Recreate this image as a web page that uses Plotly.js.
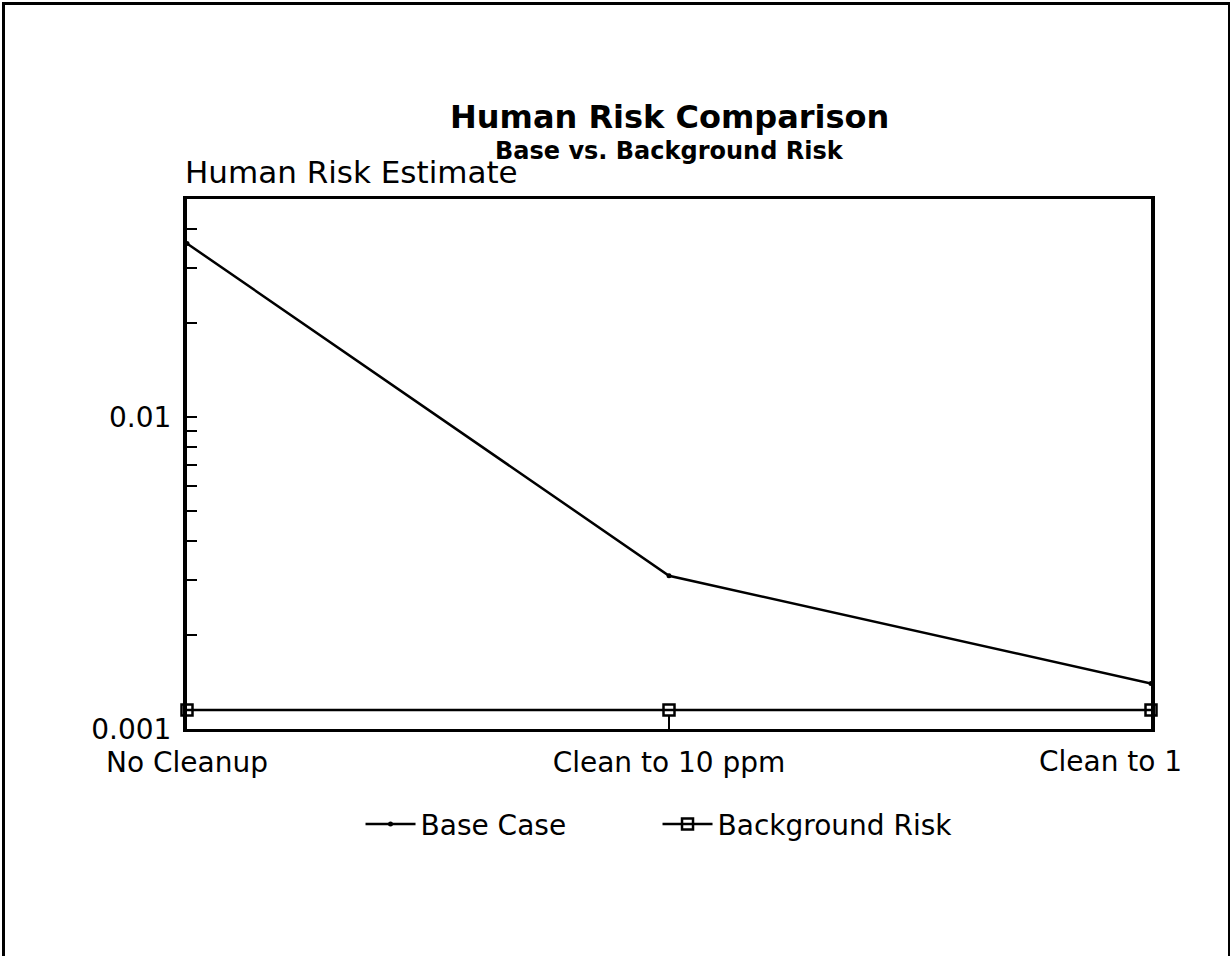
<!DOCTYPE html>
<html>
<head>
<meta charset="utf-8">
<script src="https://cdn.plot.ly/plotly-3.0.1.min.js"></script>
<style>
  html, body { margin: 0; padding: 0; background: #ffffff; }
  #wrap { position: relative; width: 1230px; height: 956px; overflow: hidden; }
  #chart { width: 1230px; height: 956px; }
  #frame { position: absolute; left: 2px; top: 2px; width: 1223px; height: 980px;
           border: 3px solid #000; pointer-events: none; }
</style>
</head>
<body>
<div id="wrap">
  <div id="chart"></div>
  <div id="frame"></div>
</div>
<script>
// ---- data ----
const categories = ['No Cleanup', 'Clean to 10 ppm', 'Clean to 1'];
const baseCase = [0.036, 0.0031, 0.0014];
const backgroundRisk = [0.00115, 0.00115, 0.00115];
const yTickVals = [0.001, 0.002, 0.003, 0.004, 0.005, 0.006, 0.007, 0.008, 0.009,
                   0.01, 0.02, 0.03, 0.04, 0.05];
const yTickText = ['0.001', '', '', '', '', '', '', '', '',
                   '0.01', '', '', '', ''];
const titleText = 'Human Risk Comparison';
const subtitleText = 'Base vs. Background Risk';
const yTitleText = 'Human Risk Estimate';

const FONT = 'DejaVu Sans, Liberation Sans, Arial, sans-serif';

// the last category label sits shifted left inside the frame in the reference,
// so it is drawn as an annotation; the others are ordinary tick labels
const xTickText = categories.map((c, i) => (i === categories.length - 1 ? '' : c));

const traces = [
  {
    x: categories, y: baseCase, name: 'Base Case', type: 'scatter', mode: 'lines+markers',
    line: { color: '#000', width: 2.5 },
    marker: { symbol: 'circle', size: 5, color: '#000' },
    cliponaxis: false
  },
  {
    x: categories, y: backgroundRisk, name: 'Background Risk', type: 'scatter', mode: 'lines+markers',
    line: { color: '#000', width: 2.5 },
    marker: { symbol: 'square-open', size: 11, color: '#000', line: { width: 2.5, color: '#000' } },
    cliponaxis: false
  }
];

const layout = {
  width: 1230, height: 956,
  paper_bgcolor: '#fff', plot_bgcolor: '#fff',
  margin: { l: 187, r: 79, t: 199, b: 227 },
  font: { family: FONT, color: '#000' },
  showlegend: true,
  legend: {
    orientation: 'h', x: 0.18, xanchor: 'left', y: -0.18, yanchor: 'middle',
    font: { family: FONT, size: 28, color: '#000' },
    itemwidth: 50, entrywidth: 232, entrywidthmode: 'pixels',
    bgcolor: 'rgba(0,0,0,0)'
  },
  xaxis: {
    type: 'category', range: [0, 2],
    tickmode: 'array', tickvals: categories, ticktext: xTickText,
    ticks: 'inside', ticklen: 13, tickwidth: 2, tickcolor: '#000',
    showline: true, linewidth: 3, linecolor: '#000', mirror: true,
    showgrid: false, zeroline: false,
    tickfont: { family: FONT, size: 28, color: '#000' },
    ticklabelstandoff: 6,
    fixedrange: true
  },
  yaxis: {
    type: 'log', range: [Math.log10(0.001), Math.log10(0.05)],
    tickmode: 'array', tickvals: yTickVals, ticktext: yTickText,
    ticks: 'inside', ticklen: 10, tickwidth: 2, tickcolor: '#000',
    showline: true, linewidth: 4, linecolor: '#000', mirror: true,
    showgrid: false, zeroline: false,
    tickfont: { family: FONT, size: 28, color: '#000' },
    ticklabelstandoff: 6,
    fixedrange: true
  },
  annotations: [
    { text: '<b>' + titleText + '</b>', xref: 'paper', yref: 'paper', x: 0.5, y: 1.155,
      xanchor: 'center', yanchor: 'middle', showarrow: false,
      font: { family: FONT, size: 32, color: '#000' } },
    { text: '<b>' + subtitleText + '</b>', xref: 'paper', yref: 'paper', x: 0.5, y: 1.09,
      xanchor: 'center', yanchor: 'middle', showarrow: false,
      font: { family: FONT, size: 24, color: '#000' } },
    { text: yTitleText, xref: 'paper', yref: 'paper', x: -0.004, y: 1.05,
      xanchor: 'left', yanchor: 'middle', showarrow: false,
      font: { family: FONT, size: 31, color: '#000' } },
    { text: categories[categories.length - 1], xref: 'paper', yref: 'paper', x: 1.034, y: -0.062,
      xanchor: 'right', yanchor: 'middle', showarrow: false,
      font: { family: FONT, size: 28, color: '#000' } }
  ]
};

Plotly.newPlot('chart', traces, layout, { displayModeBar: false, staticPlot: true });
</script>
</body>
</html>
